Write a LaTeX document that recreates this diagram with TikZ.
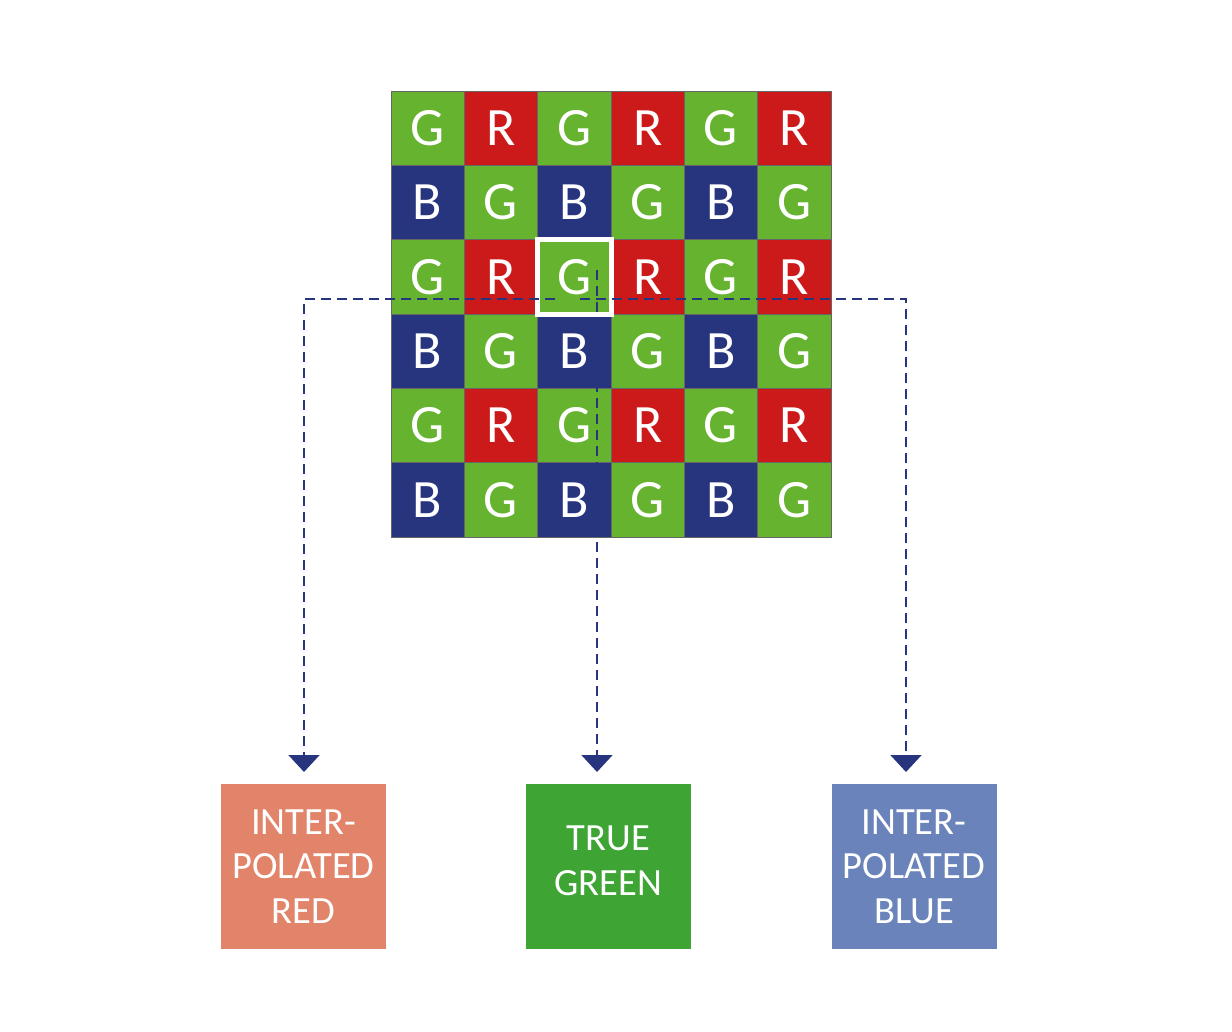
\documentclass[tikz,border=0pt]{standalone}
\usepackage{fontspec}
\setmainfont{Carlito}
\usetikzlibrary{arrows.meta}
\definecolor{pixgreen}{HTML}{65B32E}
\definecolor{pixred}{HTML}{CC1A1A}
\definecolor{pixblue}{HTML}{27357F}
\definecolor{boxred}{HTML}{E2846A}
\definecolor{boxgreen}{HTML}{3EA535}
\definecolor{boxblue}{HTML}{6B83BB}
\tikzset{
  cell/.style={draw=black!60, line width=0.6pt, minimum width=73.33pt, minimum height=74.33pt,
    inner sep=0pt, text=white, font=\fontsize{54}{54}\selectfont},
  outbox/.style={minimum width=165pt, minimum height=165pt, inner sep=0pt, text=white,
    align=center, font=\fontsize{38.5}{44.5}\selectfont},
  flow/.style={pixblue, line width=2pt, dash pattern=on 10pt off 6pt, -{Triangle[width=31pt, length=17pt]}}
}
\begin{document}
\begin{tikzpicture}[x=1pt, y=-1pt]
  \useasboundingbox (0,0) rectangle (1232,1032);
  % mosaic
  \foreach \r in {1,...,6} {
    \foreach \c in {1,...,6} {
      \pgfmathtruncatemacro{\rodd}{mod(\r,2)}
      \pgfmathtruncatemacro{\codd}{mod(\c,2)}
      \ifnum\rodd=1
        \ifnum\codd=1 \def\fc{pixgreen}\def\lt{G}\else \def\fc{pixred}\def\lt{R}\fi
      \else
        \ifnum\codd=1 \def\fc{pixblue}\def\lt{B}\else \def\fc{pixgreen}\def\lt{G}\fi
      \fi
      \node[cell, fill=\fc] (p-\r-\c) at ({391+73.33*(\c-0.5)}, {91+74.33*(\r-0.5)}) {\lt};
    }
  }
  \draw[white, line width=4.5pt] (p-3-3.north west) rectangle (p-3-3.south east);

  % outputs
  \node[outbox, fill=boxred] (red) at (303.5,866.5) {INTER-\\POLATED\\RED};
  \node[outbox, fill=boxgreen, text depth=12pt] (green) at (608.5,866.5) {TRUE\\GREEN};
  \node[outbox, fill=boxblue] (blue) at (914,866.5) {INTER-\\POLATED\\BLUE};

  \coordinate (lstart) at (555,299);
  \coordinate (rstart) at (580,299);
  \coordinate (mstart) at (597,270);
  \coordinate (lend) at (304,772);
  \coordinate (mend) at (597,772);
  \coordinate (rend) at (906,772);
  \draw[flow] (lstart) -| (lend);
  \draw[flow] (mstart) -- (mend);
  \draw[flow] (rstart) -| (rend);
\end{tikzpicture}
\end{document}
